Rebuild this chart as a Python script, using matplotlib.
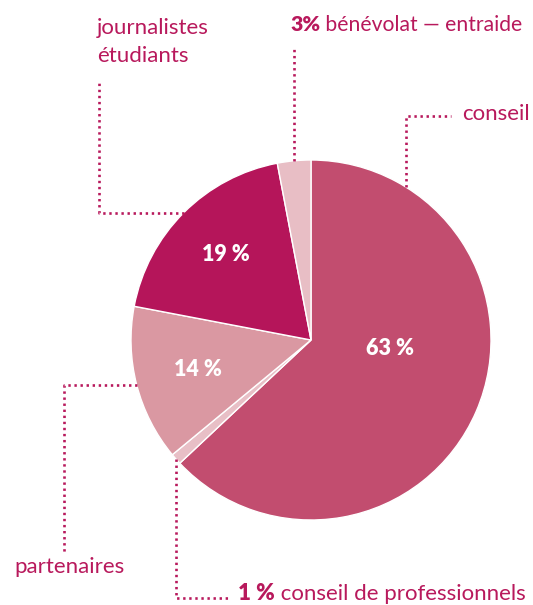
import matplotlib
matplotlib.use("Agg")
import matplotlib.pyplot as plt
import numpy as np

plt.rcParams['font.family'] = ['Lato', 'DejaVu Sans']

# ---- data ----
categories = ["conseil", "conseil de professionnels", "partenaires",
              "journalistes\nétudiants", "bénévolat — entraide"]
values = [63, 1, 14, 19, 3]
colors = ["#C24D6F", "#E8BFC6", "#DA98A2", "#B5155A", "#E8BEC5"]
inner_labels = ["63 %", None, "14 %", "19 %", None]

TXT = "#B8195C"
FS = 16
W, H = 533, 605
fig = plt.figure(figsize=(W / 100, H / 100), dpi=100)
ax = fig.add_axes([0, 0, 1, 1])

cx, cy, R = 311, H - 340, 180
wedges, _ = ax.pie(values, colors=colors, startangle=90, counterclock=False,
                   center=(cx, cy), radius=R, frame=True,
                   wedgeprops=dict(edgecolor='white', linewidth=1.0))
ax.set_xlim(0, W)
ax.set_ylim(0, H)
ax.set_aspect('equal')
ax.axis('off')

def mid(w):
    return np.deg2rad((w.theta1 + w.theta2) / 2)

def edge_pt(theta):
    return cx + R * np.cos(theta), cy + R * np.sin(theta)

# inner percentage labels
inner_pos = {0: (np.deg2rad(-6.5), 0.44), 2: (None, 0.65), 3: (None, 0.67)}
for i, lab in enumerate(inner_labels):
    if lab is None:
        continue
    th, rr = inner_pos[i]
    if th is None:
        th = mid(wedges[i])
    ax.text(cx + rr * R * np.cos(th), cy + rr * R * np.sin(th), lab,
            color='white', fontsize=15.5, fontweight='heavy',
            ha='center', va='center')

dot = dict(color=TXT, lw=1.9, linestyle=(0, (0.9, 1.4)))

def Y(y):
    return H - y

# journalistes étudiants
ax_, ay_ = edge_pt(mid(wedges[3]))
ax.plot([ax_, 99, 99], [ay_, ay_, Y(80)], **dot)
ax.text(97, Y(34), "journalistes", color=TXT, fontsize=FS, va='baseline')
ax.text(97, Y(62), "étudiants", color=TXT, fontsize=FS, va='baseline')

# bénévolat
bx, by = edge_pt(mid(wedges[4]))
ax.plot([bx, bx], [by, Y(48)], **dot)

# conseil
th_c = np.arccos((406 - cx) / R)
kx, ky = edge_pt(th_c)
ax.plot([kx, kx, 451], [ky, Y(116), Y(116)], **dot)
ax.text(530, Y(120), categories[0], color=TXT, fontsize=FS,
        ha='right', va='baseline')

# partenaires
px, py = edge_pt(mid(wedges[2]))
ax.plot([px, 64, 64], [py, py, Y(552)], **dot)
ax.text(14, Y(573), categories[2], color=TXT, fontsize=FS, va='baseline')

# conseil de professionnels
qx, qy = edge_pt(mid(wedges[1]))
ax.plot([qx, qx, 231], [qy, Y(598), Y(598)], **dot)

fig.canvas.draw()
r = fig.canvas.get_renderer()

def two_part(x, y, bold, rest, fs):
    t = ax.text(x, y, bold, color=TXT, fontsize=fs, fontweight='heavy',
                va='baseline')
    bb = t.get_window_extent(renderer=r)
    x2 = ax.transData.inverted().transform((bb.x1, 0))[0]
    ax.text(x2, y, rest, color=TXT, fontsize=fs, va='baseline')

two_part(290, Y(31), f"{values[4]}%", f" {categories[4]}", 15.2)
two_part(238, Y(600), f"{values[1]} %", f" {categories[1]}", FS)

fig.savefig("out.png", dpi=100)
